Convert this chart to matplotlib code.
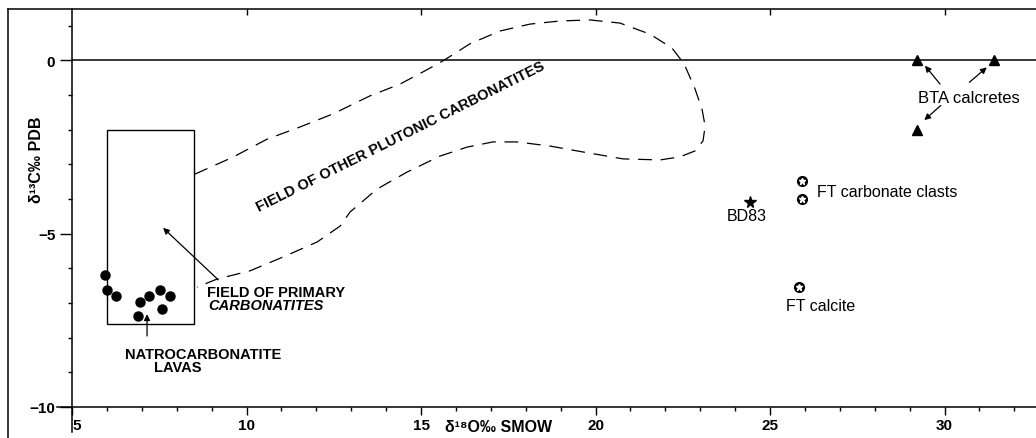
import matplotlib
matplotlib.use("Agg")
import matplotlib.pyplot as plt
from matplotlib.lines import Line2D
from matplotlib.patches import Rectangle
from matplotlib.ticker import MultipleLocator

plt.rcParams['font.family'] = ['Liberation Sans', 'DejaVu Sans']

# natrocarbonatite lavas (d18O, d13C)
lava_x = [5.95, 6.01, 6.25, 6.95, 7.21, 7.52, 7.81, 6.88, 7.57]
lava_y = [-6.19, -6.62, -6.79, -6.98, -6.81, -6.63, -6.79, -7.37, -7.18]

# field of primary carbonatites (box)
prim_x = [6.0, 8.5]
prim_y = [-7.6, -2.0]

# field of other plutonic carbonatites (outline)
plut_x = [8.52, 9.61, 10.59, 11.53, 12.48, 13.54, 14.40, 15.11, 15.63, 16.40,
          17.26, 18.12, 18.98, 19.84, 20.70, 21.56, 22.19, 22.54, 22.85, 23.05,
          23.14, 23.08, 22.85, 22.42, 21.85, 20.79, 19.64, 18.70, 17.75, 17.06,
          16.32, 15.54, 14.60, 13.74, 12.97, 12.68, 12.02, 11.05, 10.10, 9.15,
          8.58]
plut_y = [-3.28, -2.79, -2.27, -1.92, -1.54, -1.02, -0.68, -0.30, -0.01, 0.48,
          0.85, 1.05, 1.14, 1.17, 1.08, 0.76, 0.36, -0.10, -0.82, -1.40,
          -1.89, -2.32, -2.61, -2.78, -2.87, -2.84, -2.64, -2.47, -2.35, -2.35,
          -2.50, -2.76, -3.22, -3.71, -4.37, -4.78, -5.24, -5.67, -6.07, -6.31,
          -6.54]

bd83_x = [24.43]
bd83_y = [-4.09]

ft_clast_x = [25.91, 25.91]
ft_clast_y = [-3.47, -4.00]
ft_calc_x = [25.84]
ft_calc_y = [-6.55]

bta_x = [29.20, 31.43, 29.20]
bta_y = [0.0, 0.0, -2.0]

W, H = 1036, 439
fig = plt.figure(figsize=(W / 100, H / 100), dpi=100)
ax = fig.add_axes([72 / W, 31 / H, 1 - 72 / W, 398 / H])
ax.set_xlim(5, 32.62)
ax.set_ylim(-10, 1.486)

for s in ['right', 'top']:
    ax.spines[s].set_visible(False)
ax.spines['left'].set_bounds(-10.72, 1.486)
ax.spines['bottom'].set_bounds(4.57, 32.62)
for s in ['left', 'bottom']:
    ax.spines[s].set_linewidth(1.1)

ax.set_xticks([5, 10, 15, 20, 25, 30])
ax.set_yticks([0, -5, -10])
ax.xaxis.set_minor_locator(MultipleLocator(1))
ax.yaxis.set_minor_locator(MultipleLocator(1))
ax.tick_params(which='major', length=6, width=1, labelsize=11, pad=2)
ax.tick_params(which='minor', length=3, width=1)
ax.tick_params(axis='y', which='major', length=9, pad=3)
for lab in ax.get_xticklabels() + ax.get_yticklabels():
    lab.set_fontweight('bold')
ax.get_xticklabels()[0].set_ha('left')

# top ticks
sec = ax.secondary_xaxis('top')
sec.set_xticks([10, 15, 20, 25, 30])
sec.tick_params(direction='in', length=4, width=1, labeltop=False)
sec.spines['top'].set_visible(False)

# outer frame
fig.add_artist(Line2D([8 / W, 1], [429 / H, 429 / H], color='k', lw=1.1))
fig.add_artist(Line2D([8 / W, 8 / W], [0, 429 / H], color='k', lw=1.1))

ax.axhline(0, color='k', lw=1.1)

ax.text(3.97, -2.84, 'δ¹³C‰ PDB', rotation=90, ha='center', va='center',
        fontsize=11.5, fontweight='bold', clip_on=False)
ax.text(17.22, -10.56, 'δ¹⁸O‰ SMOW', ha='center', va='center',
        fontsize=11.5, fontweight='bold', clip_on=False)

# fields
ax.add_patch(Rectangle((prim_x[0], prim_y[0]), prim_x[1] - prim_x[0],
                       prim_y[1] - prim_y[0], fill=False, ec='k', lw=1))
ax.plot(plut_x, plut_y, color='k', lw=0.9, dashes=(11, 7))

ax.plot(lava_x, lava_y, 'o', color='k', ms=6.5, clip_on=False)
ax.plot(bd83_x, bd83_y, '*', color='k', ms=8.5)
ax.plot(ft_clast_x + ft_calc_x, ft_clast_y + ft_calc_y, 'o', color='k', ms=7)
ax.plot(ft_clast_x + ft_calc_x, ft_clast_y + ft_calc_y, '*', color='w', ms=5,
        mec='w')
ax.plot(bta_x, bta_y, '^', color='k', ms=7.5)

arr = dict(arrowstyle='-|>', color='k', lw=0.9, mutation_scale=9,
           shrinkA=0, shrinkB=0)
ax.annotate('', xy=(7.61, -4.83), xytext=(9.19, -6.33), arrowprops=arr)
ax.annotate('', xy=(7.15, -7.32), xytext=(7.15, -7.95), arrowprops=arr)
ax.annotate('', xy=(29.44, -0.15), xytext=(29.87, -0.68), arrowprops=arr)
ax.annotate('', xy=(31.21, -0.20), xytext=(30.71, -0.63), arrowprops=arr)
ax.annotate('', xy=(29.42, -1.72), xytext=(29.89, -1.30), arrowprops=arr)

ax.text(8.87, -6.68, 'FIELD OF PRIMARY', ha='left', va='center',
        fontsize=10.5, fontweight='bold')
ax.text(8.90, -7.06, 'CARBONATITES', ha='left', va='center',
        fontsize=10.5, fontweight='bold', style='italic')
ax.text(8.76, -8.47, 'NATROCARBONATITE', ha='center', va='center',
        fontsize=10.5, fontweight='bold')
ax.text(8.04, -8.85, 'LAVAS', ha='center', va='center',
        fontsize=10.5, fontweight='bold')
ax.text(14.40, -2.19, 'FIELD OF OTHER PLUTONIC CARBONATITES', ha='center',
        va='center', rotation=26.5, rotation_mode='anchor',
        fontsize=10.5, fontweight='bold')

ax.text(24.33, -4.47, 'BD83', ha='center', va='center', fontsize=11.5)
ax.text(26.34, -3.78, 'FT carbonate clasts', ha='left', va='center',
        fontsize=11.5)
ax.text(26.46, -7.08, 'FT calcite', ha='center', va='center', fontsize=11.5)
ax.text(30.70, -1.08, 'BTA calcretes', ha='center', va='center',
        fontsize=12)

fig.savefig('out.png', dpi=100)
